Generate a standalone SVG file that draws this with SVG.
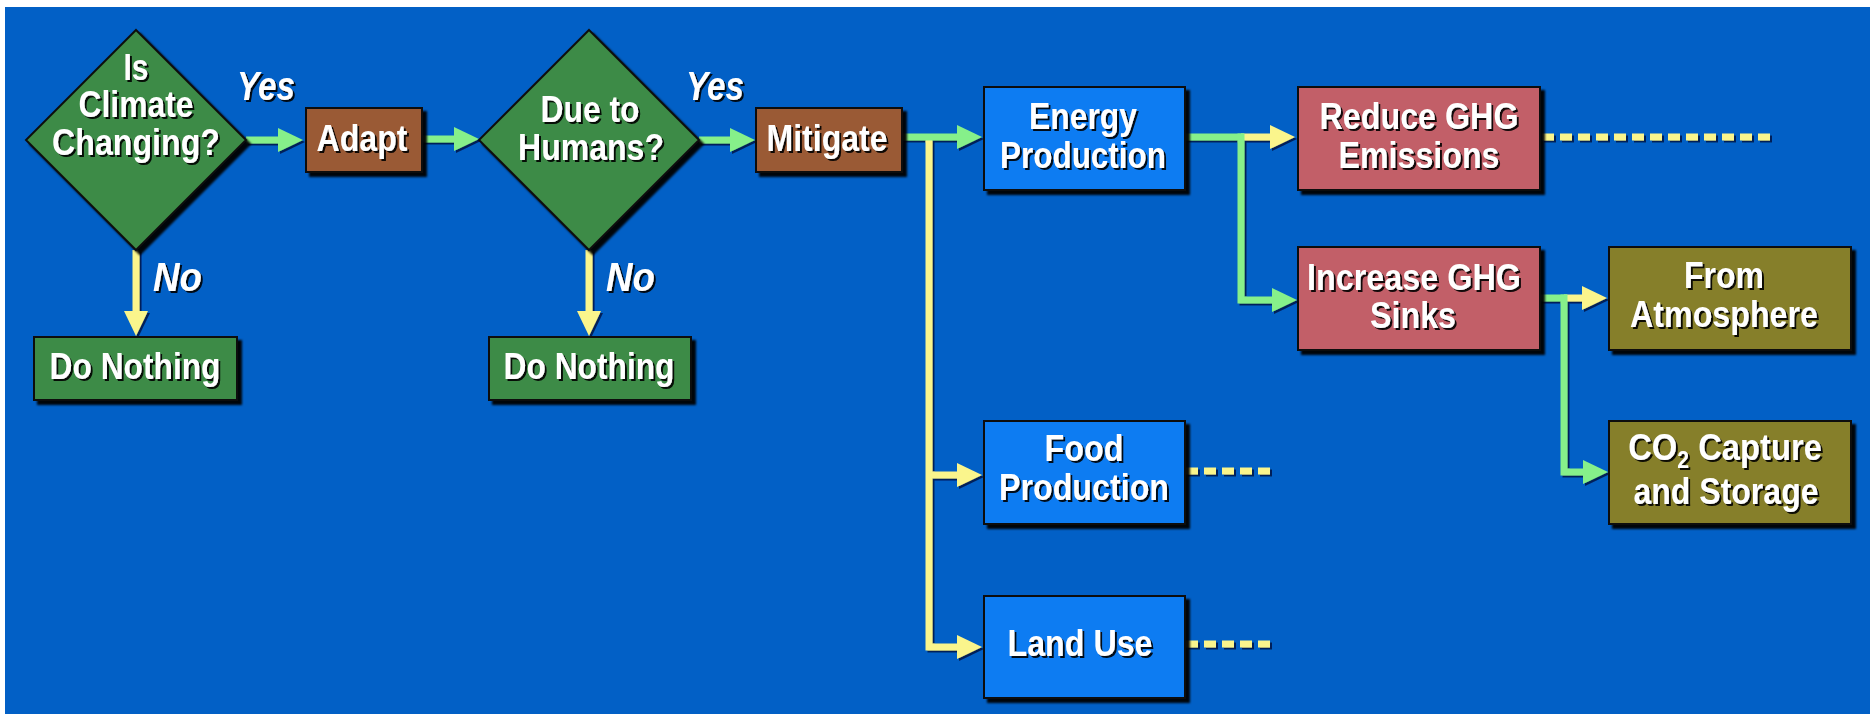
<svg xmlns="http://www.w3.org/2000/svg" width="1875" height="714" viewBox="0 0 1875 714">
<defs>
<filter id="bsh" x="-10%" y="-10%" width="130%" height="130%">
<feDropShadow dx="4" dy="4" stdDeviation="0.8" flood-color="#000" flood-opacity="0.95"/>
</filter>
<filter id="tsh" x="-10%" y="-20%" width="130%" height="150%">
<feDropShadow dx="2" dy="2" stdDeviation="0.7" flood-color="#000" flood-opacity="0.9"/>
</filter>
<filter id="lsh" x="-5%" y="-5%" width="115%" height="115%">
<feDropShadow dx="2" dy="2" stdDeviation="0.6" flood-color="#001040" flood-opacity="0.8"/>
</filter>
<marker id="hg" markerUnits="userSpaceOnUse" markerWidth="26" markerHeight="26" refX="1" refY="12" orient="auto">
<path d="M0,0 L25,12 L0,24 Z" fill="#86F08A"/>
</marker>
<marker id="hy" markerUnits="userSpaceOnUse" markerWidth="26" markerHeight="26" refX="1" refY="12" orient="auto">
<path d="M0,0 L25,12 L0,24 Z" fill="#FAF58C"/>
</marker>
<style>
.t{font-family:"Liberation Sans",Arial,sans-serif;font-weight:bold;font-size:37px;fill:#fff;text-anchor:middle}
.lab{font-family:"Liberation Sans",Arial,sans-serif;font-weight:bold;font-style:italic;font-size:41px;fill:#fff}
.sub{font-size:24px}
.shape{stroke:#111;stroke-width:2}
.dia{fill:#3E8B46}
.brn{fill:#9A5A36}
.blu{fill:#0A7BF2}
.pnk{fill:#C25E68}
.olv{fill:#867F2B}
.g{fill:none;stroke:#86F08A;stroke-width:7}
.y{fill:none;stroke:#FAF58C;stroke-width:7}
.d{fill:none;stroke:#FAF58C;stroke-width:7;stroke-dasharray:12 6}
</style>
</defs>
<rect x="0" y="0" width="1875" height="714" fill="#fff"/>
<rect x="5" y="7" width="1865" height="707" fill="#0260C6"/>

<g id="connectors" filter="url(#lsh)">
<path class="y" d="M929,137 V647 H958" marker-end="url(#hy)"/>
<path class="y" d="M929,475 H958" marker-end="url(#hy)"/>
<path class="g" d="M246,140 H279" marker-end="url(#hg)"/>
<path class="g" d="M422,139 H455" marker-end="url(#hg)"/>
<path class="g" d="M699,140 H731" marker-end="url(#hg)"/>
<path class="y" d="M136,250 V312" marker-end="url(#hy)"/>
<path class="y" d="M589,250 V312" marker-end="url(#hy)"/>
<path class="g" d="M902,137 H958" marker-end="url(#hg)"/>
<path class="y" d="M1241,137 H1271" marker-end="url(#hy)"/>
<path class="g" d="M1241,133.5 V300 H1273" marker-end="url(#hg)"/>
<path class="g" d="M1185,137 H1244"/>
<path class="y" d="M1564,298 H1583" marker-end="url(#hy)"/>
<path class="g" d="M1564,294.5 V472 H1584" marker-end="url(#hg)"/>
<path class="g" d="M1540,298 H1567"/>
<path class="d" d="M1542,137 H1773"/>
<path class="d" d="M1186,471 H1270"/>
<path class="d" d="M1186,644 H1270"/>
</g>

<g id="labels">
<text class="lab" x="237" y="100" textLength="58" lengthAdjust="spacingAndGlyphs" filter="url(#tsh)">Yes</text>
<text class="lab" x="153" y="291" textLength="49" lengthAdjust="spacingAndGlyphs" filter="url(#tsh)">No</text>
<text class="lab" x="686" y="100" textLength="58" lengthAdjust="spacingAndGlyphs" filter="url(#tsh)">Yes</text>
<text class="lab" x="606" y="291" textLength="49" lengthAdjust="spacingAndGlyphs" filter="url(#tsh)">No</text>
</g>

<g id="q-climate">
<polygon class="shape dia" points="136,30 246,140 136,250 26,140" filter="url(#bsh)"/>
<g filter="url(#tsh)">
<text class="t" x="136" y="80" textLength="25" lengthAdjust="spacingAndGlyphs">Is</text>
<text class="t" x="136" y="117" textLength="115" lengthAdjust="spacingAndGlyphs">Climate</text>
<text class="t" x="136" y="155" textLength="168" lengthAdjust="spacingAndGlyphs">Changing?</text>
</g>
</g>

<g id="adapt">
<rect class="shape brn" x="306" y="108" width="116" height="64" filter="url(#bsh)"/>
<text class="t" x="362" y="151" textLength="91" lengthAdjust="spacingAndGlyphs" filter="url(#tsh)">Adapt</text>
</g>

<g id="nothing-1">
<rect class="shape dia" x="34" y="337" width="203" height="63" filter="url(#bsh)"/>
<text class="t" x="135" y="379" textLength="171" lengthAdjust="spacingAndGlyphs" filter="url(#tsh)">Do Nothing</text>
</g>

<g id="q-humans">
<polygon class="shape dia" points="589,30 699,140 589,250 479,140" filter="url(#bsh)"/>
<g filter="url(#tsh)">
<text class="t" x="590" y="122" textLength="99" lengthAdjust="spacingAndGlyphs">Due to</text>
<text class="t" x="591" y="160" textLength="146" lengthAdjust="spacingAndGlyphs">Humans?</text>
</g>
</g>

<g id="nothing-2">
<rect class="shape dia" x="489" y="337" width="202" height="63" filter="url(#bsh)"/>
<text class="t" x="589" y="379" textLength="171" lengthAdjust="spacingAndGlyphs" filter="url(#tsh)">Do Nothing</text>
</g>

<g id="mitigate">
<rect class="shape brn" x="756" y="108" width="146" height="64" filter="url(#bsh)"/>
<text class="t" x="827" y="151" textLength="121" lengthAdjust="spacingAndGlyphs" filter="url(#tsh)">Mitigate</text>
</g>

<g id="energy">
<rect class="shape blu" x="984" y="87" width="201" height="103" filter="url(#bsh)"/>
<g filter="url(#tsh)">
<text class="t" x="1083" y="129" textLength="108" lengthAdjust="spacingAndGlyphs">Energy</text>
<text class="t" x="1083" y="168" textLength="166" lengthAdjust="spacingAndGlyphs">Production</text>
</g>
</g>

<g id="food">
<rect class="shape blu" x="984" y="421" width="201" height="103" filter="url(#bsh)"/>
<g filter="url(#tsh)">
<text class="t" x="1084" y="461" textLength="79" lengthAdjust="spacingAndGlyphs">Food</text>
<text class="t" x="1084" y="500" textLength="170" lengthAdjust="spacingAndGlyphs">Production</text>
</g>
</g>

<g id="land">
<rect class="shape blu" x="984" y="596" width="201" height="102" filter="url(#bsh)"/>
<text class="t" x="1080" y="656" textLength="145" lengthAdjust="spacingAndGlyphs" filter="url(#tsh)">Land Use</text>
</g>

<g id="reduce">
<rect class="shape pnk" x="1298" y="87" width="242" height="103" filter="url(#bsh)"/>
<g filter="url(#tsh)">
<text class="t" x="1419" y="129" textLength="199" lengthAdjust="spacingAndGlyphs">Reduce GHG</text>
<text class="t" x="1419" y="168" textLength="161" lengthAdjust="spacingAndGlyphs">Emissions</text>
</g>
</g>

<g id="increase">
<rect class="shape pnk" x="1298" y="247" width="242" height="103" filter="url(#bsh)"/>
<g filter="url(#tsh)">
<text class="t" x="1414" y="290" textLength="214" lengthAdjust="spacingAndGlyphs">Increase GHG</text>
<text class="t" x="1413" y="328" textLength="86" lengthAdjust="spacingAndGlyphs">Sinks</text>
</g>
</g>

<g id="atmosphere">
<rect class="shape olv" x="1609" y="247" width="242" height="103" filter="url(#bsh)"/>
<g filter="url(#tsh)">
<text class="t" x="1724" y="288" textLength="80" lengthAdjust="spacingAndGlyphs">From</text>
<text class="t" x="1724" y="327" textLength="188" lengthAdjust="spacingAndGlyphs">Atmosphere</text>
</g>
</g>

<g id="co2">
<rect class="shape olv" x="1609" y="421" width="242" height="103" filter="url(#bsh)"/>
<g filter="url(#tsh)">
<text class="t" transform="translate(1725,460) scale(0.885,1)" x="0" y="0">CO<tspan class="sub" dy="8">2</tspan><tspan dy="-8"> Capture</tspan></text>
<text class="t" x="1726" y="504" textLength="185" lengthAdjust="spacingAndGlyphs">and Storage</text>
</g>
</g>
</svg>
